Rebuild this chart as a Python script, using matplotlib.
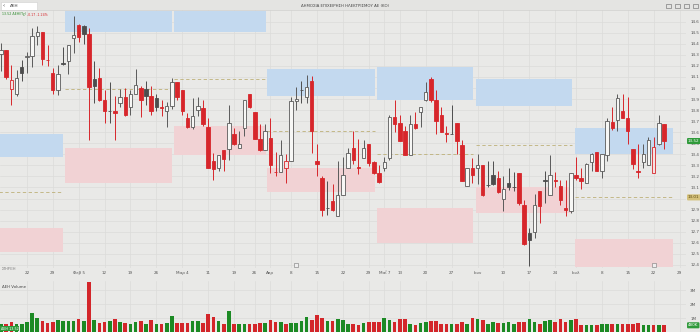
import numpy as np
import matplotlib.pyplot as plt
from matplotlib.patches import Rectangle

# ΔΕΗ daily candles (prices in EUR, volume in millions)
opens = [14.31, 14.34, 13.99, 13.95, 14.19, 14.28, 14.29, 14.47, 14.51, 14.25,
         14.14, 13.98, 14.22, 14.24, 14.45, 14.57, 14.56, 14.49, 14.08, 14.09,
         13.89, 13.79, 13.79, 13.86, 13.92, 13.83, 13.95, 14.00, 13.99, 13.93,
         13.91, 13.83, 13.79, 13.84, 14.05, 13.98, 13.73, 13.65, 13.80, 13.82,
         13.65, 13.34, 13.28, 13.44, 13.45, 13.58, 13.46, 13.64, 13.95, 13.78,
         13.54, 13.44, 13.55, 13.24, 13.24, 13.28, 13.34, 13.88, 13.98, 13.92,
         14.06, 13.34, 13.19, 12.91, 12.98, 12.84, 13.03, 13.28, 13.46, 13.28,
         13.37, 13.49, 13.33, 13.23, 13.28, 13.37, 13.74, 13.68, 13.61, 13.39,
         13.67, 13.78, 13.89, 14.08, 13.89, 13.76, 13.59, 13.58, 13.68, 13.48,
         13.11, 13.28, 13.28, 13.30, 13.12, 13.21, 13.19, 13.00, 13.14, 13.10,
         13.23, 12.94, 12.69, 12.70, 13.07, 13.16, 13.03, 13.17, 13.11, 12.91,
         12.89, 13.21, 13.19, 13.14, 13.33, 13.42, 13.25, 13.39, 13.69, 13.71,
         13.79, 13.73, 13.45, 13.25, 13.33, 13.30, 13.23, 13.49, 13.67]
highs = [14.41, 14.34, 14.21, 14.16, 14.25, 14.33, 14.54, 14.56, 14.51, 14.39,
         14.18, 14.21, 14.37, 14.39, 14.65, 14.58, 14.57, 14.54, 14.24, 14.18,
         13.98, 14.05, 13.93, 13.99, 14.00, 13.98, 14.17, 14.02, 14.06, 14.02,
         13.95, 13.89, 13.87, 14.09, 14.05, 13.98, 13.77, 13.91, 13.92, 13.89,
         13.73, 13.41, 13.39, 13.44, 13.85, 13.64, 13.61, 13.89, 13.95, 13.78,
         13.67, 13.67, 13.73, 13.42, 13.53, 13.40, 13.92, 14.01, 14.06, 14.12,
         14.11, 13.49, 13.20, 13.16, 13.13, 13.34, 13.38, 13.46, 13.61, 13.54,
         13.53, 13.49, 13.34, 13.30, 13.38, 13.76, 13.89, 13.76, 13.66, 13.76,
         13.78, 13.83, 14.05, 14.10, 13.98, 13.83, 13.66, 13.85, 13.68, 13.53,
         13.28, 13.37, 13.40, 13.30, 13.34, 13.34, 13.25, 13.20, 13.28, 13.24,
         13.23, 12.99, 12.73, 13.04, 13.07, 13.25, 13.39, 13.24, 13.17, 13.17,
         13.23, 13.38, 13.28, 13.32, 13.41, 13.42, 13.40, 13.73, 13.83, 13.95,
         13.95, 13.92, 13.45, 13.49, 13.49, 13.56, 13.56, 13.76, 13.67]
lows = [14.15, 14.08, 13.85, 13.93, 14.06, 14.14, 14.19, 14.39, 14.21, 14.20,
        13.95, 13.94, 14.21, 14.13, 14.32, 14.42, 14.40, 13.53, 13.86, 13.88,
        13.68, 13.68, 13.53, 13.83, 13.75, 13.76, 13.95, 13.74, 13.85, 13.76,
        13.79, 13.75, 13.65, 13.81, 13.89, 13.76, 13.64, 13.63, 13.75, 13.66,
        13.28, 13.17, 13.25, 13.25, 13.35, 13.48, 13.46, 13.57, 13.82, 13.54,
        13.43, 13.44, 13.23, 13.20, 13.24, 13.14, 13.34, 13.80, 13.86, 13.86,
        13.41, 13.20, 12.84, 12.85, 12.89, 12.84, 13.03, 13.28, 13.31, 13.22,
        13.37, 13.29, 13.22, 13.14, 13.25, 13.35, 13.60, 13.52, 13.39, 13.39,
        13.63, 13.65, 13.88, 13.87, 13.58, 13.60, 13.51, 13.58, 13.40, 13.16,
        13.11, 13.14, 13.13, 13.02, 13.10, 13.12, 13.05, 12.89, 13.08, 13.07,
        12.94, 12.58, 12.39, 12.64, 12.78, 12.96, 13.03, 13.10, 12.94, 12.84,
        12.87, 13.17, 13.09, 13.14, 13.25, 13.25, 13.19, 13.34, 13.62, 13.61,
        13.73, 13.49, 13.27, 13.19, 13.28, 13.30, 13.23, 13.48, 13.45]
closes = [14.34, 14.10, 14.07, 14.09, 14.14, 14.29, 14.47, 14.51, 14.26, 14.25,
          13.98, 14.13, 14.22, 14.39, 14.48, 14.46, 14.49, 14.01, 14.02, 13.89,
          13.79, 13.79, 13.77, 13.92, 13.76, 13.95, 14.03, 13.89, 13.93, 13.79,
          13.83, 13.82, 13.84, 14.05, 13.92, 13.79, 13.65, 13.75, 13.84, 13.67,
          13.28, 13.27, 13.39, 13.36, 13.68, 13.49, 13.49, 13.89, 13.83, 13.54,
          13.44, 13.61, 13.30, 13.24, 13.39, 13.34, 13.88, 13.90, 13.98, 14.01,
          13.61, 13.31, 12.90, 12.91, 12.90, 13.03, 13.21, 13.41, 13.35, 13.28,
          13.46, 13.32, 13.23, 13.15, 13.33, 13.74, 13.67, 13.52, 13.39, 13.67,
          13.64, 13.83, 13.96, 13.89, 13.70, 13.60, 13.58, 13.58, 13.52, 13.16,
          13.28, 13.21, 13.30, 13.03, 13.12, 13.13, 13.06, 13.09, 13.10, 13.10,
          12.96, 12.59, 12.62, 12.94, 12.93, 13.16, 13.21, 13.16, 12.99, 12.90,
          13.23, 13.19, 13.16, 13.31, 13.40, 13.25, 13.40, 13.70, 13.64, 13.91,
          13.73, 13.61, 13.31, 13.24, 13.40, 13.53, 13.47, 13.68, 13.52]
volumes = [0.55, 0.60, 0.72, 0.55, 0.60, 0.72, 1.39, 1.03, 0.79, 0.67,
           0.72, 0.89, 0.79, 0.79, 0.79, 0.96, 0.79, 3.55, 0.89, 0.67,
           0.72, 0.79, 0.96, 0.72, 0.67, 0.55, 0.72, 0.77, 0.55, 0.84,
           0.60, 0.60, 0.67, 1.13, 0.67, 0.67, 0.67, 0.79, 0.77, 0.65,
           1.27, 1.08, 0.77, 0.60, 1.49, 0.55, 0.60, 0.60, 0.60, 0.55,
           0.65, 0.65, 0.89, 0.72, 0.72, 0.60, 0.67, 0.67, 0.79, 1.08,
           0.89, 1.20, 1.01, 0.79, 0.79, 0.96, 0.89, 0.60, 0.55, 0.48,
           0.65, 0.72, 0.72, 0.72, 1.01, 0.84, 0.72, 0.91, 0.91, 0.60,
           0.53, 0.67, 0.72, 0.79, 0.79, 0.60, 0.55, 0.60, 0.60, 0.72,
           0.55, 1.03, 0.96, 0.89, 0.55, 0.72, 0.67, 0.67, 0.72, 0.60,
           0.72, 0.72, 0.91, 0.72, 0.60, 0.79, 0.89, 0.72, 0.96, 0.72,
           0.89, 0.96, 0.48, 0.48, 0.48, 0.48, 0.60, 0.55, 0.60, 0.55,
           0.55, 0.55, 0.60, 0.67, 0.48, 0.48, 0.48, 0.48, 0.48]

# date axis (bar index -> label)
tick_pos = [5, 10, 15, 20, 25, 30, 35, 40, 45, 49, 52, 56, 61, 66,
            71, 74, 77, 82, 87, 92, 97, 102, 107, 111, 116, 121, 126, 131]
tick_labels = ["22", "29", "Φεβ 5", "12", "19", "26", "Μαρ 4", "11", "19", "26",
               "Απρ", "8", "15", "22", "29", "Μαΐ 7", "13", "20", "27", "Ιουν",
               "10", "17", "24", "Ιουλ", "8", "15", "22", "29"]

# monthly zones: start/end bar, resistance box, support box, mid line
zone_start = [-1.0, 12.3, 33.4, 51.4, 72.6, 91.7, 110.8]
zone_end = [11.9, 33.0, 51.2, 72.2, 91.1, 110.2, 129.7]
res_lo = [13.38, 14.51, 14.51, 13.93, 13.89, 13.84, 13.40]
res_hi = [13.58, 14.70, 14.70, 14.17, 14.19, 14.08, 13.64]
sup_lo = [12.52, 13.14, 13.39, 13.06, 12.60, 12.87, 12.38]
sup_hi = [12.73, 13.46, 13.66, 13.28, 12.91, 13.10, 12.63]
mid_line = [13.06, 13.99, 14.08, 13.61, 13.40, 13.48, 13.01]

events = [57, 126]

BG = "#e9e9e7"
GRID = "#dcdcda"
RED = "#d7262b"
DARK = "#4d4d4d"
VGREEN = "#1c8a24"
VRED = "#d3262a"

o = np.array(opens)
h = np.array(highs)
l = np.array(lows)
c = np.array(closes)
v = np.array(volumes)
idx = np.arange(len(c))
prev = np.r_[o[0], c[:-1]]
down = c < prev
filled = c < o
doji = np.abs(c - o) < 0.005

faces, edges = [], []
for d, f, dj in zip(down, filled, doji):
    if dj or f:
        faces.append(RED if d else DARK)
        edges.append(RED if d else DARK)
    else:
        faces.append("#f4e2e2" if d else "#f7f7f5")
        edges.append(RED if d else "#5a5a5a")

fig = plt.figure(figsize=(7, 3.32), dpi=100, facecolor=BG)
xlim = (-0.19, 132.24)

# price panel
ax = fig.add_axes([0, 64 / 332, 686 / 700, 258 / 332], facecolor=BG)
ax.set_xlim(*xlim)
ax.set_ylim(12.371, 14.706)

for s, e, a, b, lo2, hi2, m in zip(zone_start, zone_end, res_lo, res_hi, sup_lo, sup_hi, mid_line):
    ax.fill_between([s, e], a, b, color="#c3d9ef", lw=0, zorder=1)
    ax.fill_between([s, e], lo2, hi2, color="#f1d2d4", lw=0, zorder=1)
    ax.hlines(m, s, e, colors="#bdb078", linestyles=(0, (4, 3)), lw=0.6, zorder=1.5)

ax.vlines(idx, l, h, colors=edges, lw=0.7, zorder=2)
ax.bar(idx, np.maximum(np.abs(c - o), 0.004), bottom=np.minimum(o, c), width=0.66,
       color=faces, edgecolor=edges, linewidth=0.6, zorder=3)

yt = np.round(np.arange(12.4, 14.65, 0.1), 1)
ax.set_yticks(yt)
# the 13 tick sits under the flag of the last zone line
ax.set_yticklabels(["" if t == 13.0 else f"{t:g}" for t in yt])
ax.yaxis.tick_right()
ax.set_xticks(tick_pos)
ax.set_xticklabels(tick_labels)
ax.tick_params(axis="both", length=0, labelsize=3, colors="#555555", pad=2.5)
ax.tick_params(axis="y", pad=3)
ax.grid(True, color=GRID, lw=0.5)
ax.set_axisbelow(True)
for sp in ax.spines.values():
    sp.set_visible(False)

ax.scatter(events, [0.01] * len(events), transform=ax.get_xaxis_transform(), marker="s",
           s=6, facecolor="#eeeeee", edgecolor="#777777", lw=0.4, zorder=4, clip_on=False)

# right-hand price flags
ax.text(1.003, c[-1], f"{c[-1]:.2f}", transform=ax.get_yaxis_transform(), fontsize=3,
        color="white", va="center", ha="left", zorder=5,
        bbox=dict(boxstyle="round,pad=0.25", fc="#2f9a3a", ec="none"))
ax.text(1.003, mid_line[-1], f"{mid_line[-1]:.2f}", transform=ax.get_yaxis_transform(),
        fontsize=3, color="#5a4a10", va="center", ha="left", zorder=5,
        bbox=dict(boxstyle="round,pad=0.25", fc="#d4c07a", ec="none"))

# volume panel
vax = fig.add_axes([0, 0, 686 / 700, 51 / 332], facecolor=BG)
vax.set_xlim(*xlim)
vax.set_ylim(0, 3.65)
vcol = np.where(np.r_[c[0] >= o[0], c[1:] >= c[:-1]], VGREEN, VRED)
vax.bar(idx, v, width=0.7, color=vcol, zorder=3)
vax.set_xticks(tick_pos)
vax.set_xticklabels([])
vax.set_yticks([1, 2, 3])
vax.set_yticklabels(["1M", "2M", "3M"])
vax.yaxis.tick_right()
vax.tick_params(axis="both", length=0, labelsize=3, colors="#555555", pad=3)
vax.grid(True, color=GRID, lw=0.5)
vax.set_axisbelow(True)
for sp in vax.spines.values():
    sp.set_visible(False)
vax.text(1.003, v[-1], f"{v[-1] * 1000:.0f}K", transform=vax.get_yaxis_transform(),
         fontsize=3, color="white", va="center", ha="left",
         bbox=dict(boxstyle="round,pad=0.25", fc="#2f9a3a", ec="none"))
vax.text(0.003, 0.93, "ΔΕΗ Volume", transform=vax.transAxes, fontsize=2.8,
         color="#444444", va="top", ha="left")

# header strip
fig.patches.append(Rectangle((0, 1 - 10 / 332), 1, 10 / 332, transform=fig.transFigure,
                             fc="#e4e4e2", ec="none", zorder=0))
fig.lines.append(plt.Line2D([0, 1], [1 - 10 / 332] * 2, transform=fig.transFigure,
                            color="#d0d0ce", lw=0.5))
fig.patches.append(Rectangle((1 / 700, 1 - 9.5 / 332), 36 / 700, 7.5 / 332,
                             transform=fig.transFigure, fc="white", ec="#cfcfcf", lw=0.4))
fig.text(3 / 700, 1 - 5.8 / 332, "‹", fontsize=4, color="#333333", va="center")
fig.text(10 / 700, 1 - 5.8 / 332, "ΔΕΗ", fontsize=3, color="#333333", va="center")
fig.text(0.493, 1 - 6 / 332, "ΔΗΜΟΣΙΑ ΕΠΙΧΕΙΡΗΣΗ ΗΛΕΚΤΡΙΣΜΟΥ ΑΕ (ΚΟ)", fontsize=2.8,
         color="#444444", ha="center", va="center")
for px in [666, 675, 684, 693]:
    fig.patches.append(Rectangle((px / 700, 1 - 8 / 332), 5 / 700, 4 / 332,
                                 transform=fig.transFigure, fc="none", ec="#666666", lw=0.4))
fig.text(2 / 700, 1 - 14.5 / 332, "13.52 ΔΕΗ(Πχ)", fontsize=2.3, color="#2a8a2a", va="center")
fig.text(27 / 700, 1 - 14.5 / 332, "-0.17 -1.24%", fontsize=2.3, color=RED, va="center")
fig.text(2 / 700, 1 - 269 / 332, "ΣΤΗΡΙΞΗ", fontsize=2.4, color="#777777", va="center")
fig.text(1 / 700, 1.5 / 332, "ΔΕΗ 13.52", fontsize=2.4, color="white", va="bottom",
         bbox=dict(boxstyle="square,pad=0.2", fc="#2f9a3a", ec="none"))

fig.savefig("out.png", dpi=100, facecolor=BG)
